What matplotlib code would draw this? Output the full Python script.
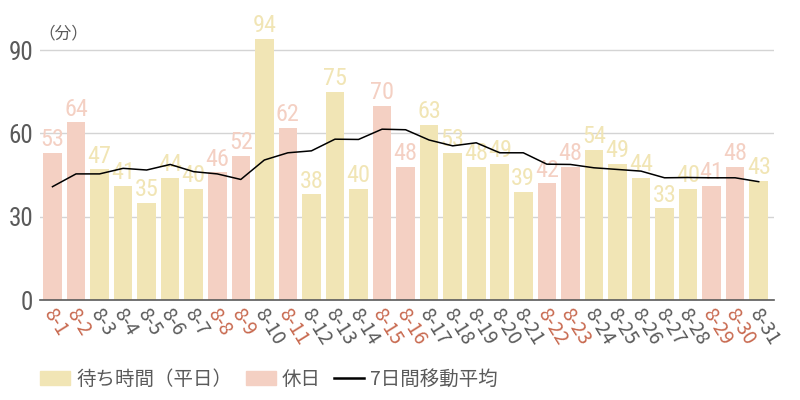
import matplotlib
matplotlib.use("Agg")
import matplotlib.pyplot as plt
from matplotlib import font_manager
from matplotlib.font_manager import FontProperties
from matplotlib.patches import Patch
from matplotlib.lines import Line2D

plt.rcParams['font.family'] = ['Noto Sans CJK JP', 'DejaVu Sans']

days = list(range(1, 32))
labels = [f"8-{d}" for d in days]
wait = [53, 64, 47, 41, 35, 44, 40, 46, 52, 94, 62, 38, 75, 40, 70, 48,
        63, 53, 48, 49, 39, 42, 48, 54, 49, 44, 33, 40, 41, 48, 43]
holidays = [1, 2, 8, 9, 11, 15, 16, 22, 23, 29, 30]
ma7 = [40.8, 45.4, 45.4, 47.4, 46.8, 48.8, 46.2, 45.4, 43.4, 50.4, 53.0,
       53.7, 57.9, 57.8, 61.5, 61.3, 57.6, 55.5, 56.6, 53.0, 53.0, 48.9,
       48.8, 47.6, 47.0, 46.4, 44.0, 44.1, 44.0, 44.0, 42.6]
yticks = [0, 30, 60, 90]

C_WEEK = "#f1e5b5"
C_HOL = "#f4d0c3"
C_HOL_TXT = "#c8694f"
C_GRAY = "#5a5a5a"

# pick a condensed font for numbers if available
cond_fp = None
pref = ["Roboto Condensed", "Liberation Sans Narrow", "DejaVu Sans", "Open Sans", "Noto Sans"]
cands = [f for f in font_manager.fontManager.ttflist
         if (f.stretch in ("condensed", "semi-condensed") or "Condensed" in f.name or "Narrow" in f.name)
         and f.weight in (400, "normal", "regular") and f.style == "normal"]
for p in pref:
    for f in cands:
        if f.name == p:
            cond_fp = f.fname
            break
    if cond_fp:
        break
if cond_fp is None and cands:
    cond_fp = cands[0].fname

def numfont(size):
    if cond_fp:
        return FontProperties(fname=cond_fp, size=size)
    return FontProperties(family="Roboto", size=size)

fig = plt.figure(figsize=(8, 4), dpi=100)
ax = fig.add_axes([0.05, 0.25, 0.9175, 0.6805])

colors = [C_HOL if d in holidays else C_WEEK for d in days]
ax.bar(days, wait, width=0.79, color=colors, zorder=2)
for d, v, c in zip(days, wait, colors):
    ax.text(d, v + 0.6, str(v), ha="center", va="bottom", color=c,
            fontproperties=numfont(17.5), zorder=3)

ax.plot(days, ma7, color="black", lw=1.1, zorder=4)

ax.set_xlim(0.47, 31.65)
ax.set_ylim(0, 98)
ax.set_yticks(yticks)
ax.set_yticklabels([str(t) for t in yticks])
for t in ax.get_yticklabels():
    t.set_fontproperties(numfont(18))
    t.set_color(C_GRAY)
ax.tick_params(axis="y", length=0, pad=5)
ax.grid(axis="y", color="#d4d4d4", lw=1, zorder=0)
ax.set_axisbelow(True)
for s in ["top", "right", "left"]:
    ax.spines[s].set_visible(False)
ax.spines["bottom"].set_color(C_GRAY)
ax.spines["bottom"].set_linewidth(1.2)

ax.set_xticks(days)
ax.set_xticklabels([])
ax.tick_params(axis="x", length=0)
for d, lab in zip(days, labels):
    ax.text(d - 0.22, -3.5, lab, rotation=-58, rotation_mode="anchor",
            ha="left", va="center", fontsize=14,
            color=C_HOL_TXT if d in holidays else C_GRAY,
            transform=ax.transData, clip_on=False)

fig.text(0.048, 0.915, "（分）", ha="left", va="center", fontsize=12, color=C_GRAY)

handles = [Patch(color=C_WEEK), Patch(color=C_HOL), Line2D([0], [0], color="black", lw=1.8)]
leg = fig.legend(handles, ["待ち時間（平日）", "休日", "7日間移動平均"],
                 loc="center left", bbox_to_anchor=(0.05, 0.052), ncol=3,
                 frameon=False, fontsize=14, handlelength=1.55, handleheight=0.8,
                 handletextpad=0.3, columnspacing=0.7, borderpad=0, borderaxespad=0)
for t in leg.get_texts():
    t.set_color(C_GRAY)

fig.savefig("out.png", dpi=100)
